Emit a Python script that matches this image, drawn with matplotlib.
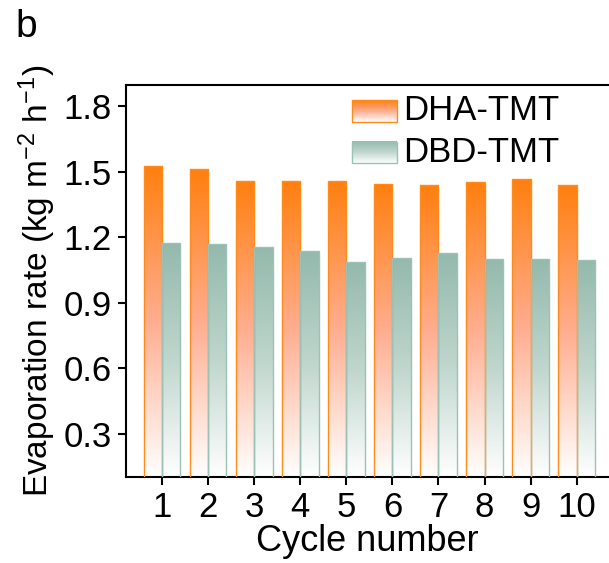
import numpy as np
import matplotlib
matplotlib.use('Agg')
import matplotlib.pyplot as plt
from matplotlib.colors import LinearSegmentedColormap

plt.rcParams['font.family'] = ['Liberation Sans', 'DejaVu Sans']
plt.rcParams['mathtext.fontset'] = 'custom'
plt.rcParams['mathtext.rm'] = 'Liberation Sans'
plt.rcParams['mathtext.it'] = 'Liberation Sans'

cycles = [1, 2, 3, 4, 5, 6, 7, 8, 9, 10]
dha_tmt = [1.526, 1.514, 1.458, 1.458, 1.458, 1.447, 1.439, 1.452, 1.467, 1.439]
dbd_tmt = [1.173, 1.168, 1.155, 1.138, 1.089, 1.107, 1.127, 1.100, 1.100, 1.095]
yticks = [0.3, 0.6, 0.9, 1.2, 1.5, 1.8]

YMIN, YMAX = 0.1, 1.9
BW = 0.4

cmap_o = LinearSegmentedColormap.from_list('o', ['#FFFFFF', '#FFAD8F', '#FF7F0E'])
cmap_g = LinearSegmentedColormap.from_list('g', ['#FFFFFF', '#BFD6CD', '#94B9AC'])
grad = np.linspace(0, 1, 256).reshape(-1, 1)


def grad_bars(ax, x, vals, cmap, ec):
    bars = ax.bar(x, vals, width=BW, facecolor='none', edgecolor=ec, linewidth=1.0, zorder=3)
    for b in bars:
        x0 = b.get_x()
        x1 = x0 + b.get_width()
        im = ax.imshow(grad, cmap=cmap, origin='lower', aspect='auto',
                       extent=[x0, x1, YMIN, b.get_height()], zorder=2)
        im.set_clip_path(b)


fig = plt.figure(figsize=(6.09, 5.63), dpi=100)
ax = fig.add_axes([0.2069, 0.152, 0.7931, 0.6976])

x = np.array(cycles, dtype=float)
grad_bars(ax, x - BW / 2, dha_tmt, cmap_o, '#FF8C1A')
grad_bars(ax, x + BW / 2, dbd_tmt, cmap_g, '#9CC2B5')

# legend drawn by hand so the swatches keep the gradient
for (y0, y1), cmap, ec, lab in [((0.905, 0.961), cmap_o, '#FF8C1A', 'DHA-TMT'),
                                ((0.800, 0.855), cmap_g, '#9CC2B5', 'DBD-TMT')]:
    ax.imshow(grad, cmap=cmap, origin='lower', aspect='auto',
              extent=[0.468, 0.561, y0, y1], transform=ax.transAxes, zorder=4)
    ax.add_patch(plt.Rectangle((0.468, y0), 0.093, y1 - y0, transform=ax.transAxes,
                               fc='none', ec=ec, lw=1.0, zorder=5))
    ax.text(0.574, (y0 + y1) / 2, lab, transform=ax.transAxes, fontsize=25,
            va='center', ha='left')

ax.set_xlim(0.22, 10.7)
ax.set_ylim(YMIN, YMAX)
ax.set_xticks(cycles)
ax.set_yticks(yticks)
ax.set_yticklabels(['%.1f' % v for v in yticks])
ax.tick_params(direction='out', length=6, width=1.5, labelsize=25, pad=4)

for s in ['left', 'bottom', 'top']:
    ax.spines[s].set_linewidth(1.5)
ax.spines['right'].set_visible(False)

ax.set_xlabel('Cycle number', fontsize=26, labelpad=0)
ax.set_ylabel('Evaporation rate (kg m$^{-2}$ h$^{-1}$)', fontsize=24, labelpad=4)

fig.text(0.025, 0.952, 'b', fontsize=28, va='center', ha='left')

fig.savefig('out.png', dpi=100)
